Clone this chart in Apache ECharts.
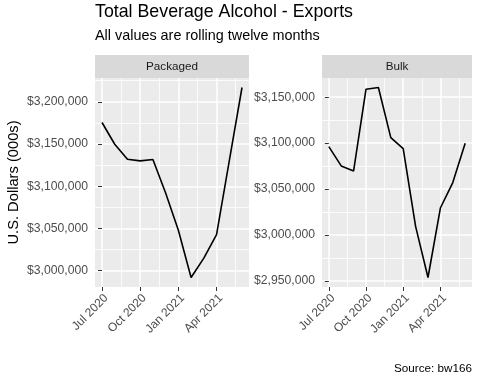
<!DOCTYPE html>
<html>
<head>
<meta charset="utf-8">
<script src="https://cdn.jsdelivr.net/npm/echarts@6/dist/echarts.min.js"></script>
<style>
html,body{margin:0;padding:0;background:#fff;}
#chart{width:480px;height:384px;}
</style>
</head>
<body>
<div id="chart"></div>
<script>
// ---- data ----
const months = ['Jul 2020','Aug 2020','Sep 2020','Oct 2020','Nov 2020','Dec 2020',
                'Jan 2021','Feb 2021','Mar 2021','Apr 2021','May 2021','Jun 2021'];
const xTickLabels = ['Jul 2020','Oct 2020','Jan 2021','Apr 2021'];
const packaged = [3175500, 3149700, 3132000, 3130000, 3131600, 3092000,
                  3048000, 2992000, 3015000, 3042700, 3130000, 3216900];
const bulk = [3096200, 3075150, 3069700, 3158700, 3160600, 3106000,
              3094000, 3009300, 2953600, 3029300, 3057000, 3099800];
const packagedYTicks = [3000000, 3050000, 3100000, 3150000, 3200000];
const bulkYTicks = [2950000, 3000000, 3050000, 3100000, 3150000];
const panelNames = ['Packaged', 'Bulk'];

// ---- helpers ----
const FONT = 'Liberation Sans, Arial, sans-serif';
const xIdx = months.map((m, i) => i);
const xTickVals = xTickLabels.map(l => months.indexOf(l));
const mids = arr => arr.map((v, i) => i === 0 ? null : (v + arr[i - 1]) / 2).filter(v => v !== null);
const xMinorVals = mids(xTickVals).concat([xTickVals[xTickVals.length - 1] + (xTickVals[1] - xTickVals[0]) / 2]);
const xPad = (xIdx.length - 1) * 0.05;
const xMin = -xPad, xMax = xIdx.length - 1 + xPad;
function yRange(arr) {
  const lo = Math.min(...arr), hi = Math.max(...arr), p = (hi - lo) * 0.05;
  return [lo - p, hi + p];
}
function yMinor(ticks, range) {
  const step = ticks[1] - ticks[0];
  const out = [];
  for (let v = ticks[0] - step / 2; v <= range[1]; v += step) if (v >= range[0]) out.push(v);
  return out;
}
const fmtDollar = v => '$' + Math.round(v).toLocaleString('en-US');

const grids = [
  {left: 95, top: 78, width: 154, height: 209},
  {left: 322, top: 78, width: 150, height: 209}
];
const seriesData = [packaged, bulk];
const yTicksAll = [packagedYTicks, bulkYTicks];

const xAxes = [], yAxes = [], series = [];
grids.forEach((g, gi) => {
  const yr = yRange(seriesData[gi]);
  // major x
  xAxes.push({
    type: 'value', gridIndex: gi, min: xMin, max: xMax,
    axisLine: {show: false},
    axisTick: {show: true, customValues: xTickVals, length: 4, lineStyle: {color: '#333333', width: 1}},
    axisLabel: {show: true, customValues: xTickVals, rotate: 45, margin: 5,
      align: 'right', verticalAlign: 'top',
      color: '#4D4D4D', fontSize: 12, fontFamily: FONT,
      formatter: v => months[Math.round(v)]},
    splitLine: {show: true, lineStyle: {color: '#FFFFFF', width: 1.5}}
  });
  // minor x
  xAxes.push({
    type: 'value', gridIndex: gi, min: xMin, max: xMax,
    axisLine: {show: false},
    axisTick: {show: false, customValues: xMinorVals},
    axisLabel: {show: false, customValues: xMinorVals},
    splitLine: {show: true, lineStyle: {color: '#FFFFFF', width: 0.8}}
  });
  // major y
  yAxes.push({
    type: 'value', gridIndex: gi, min: yr[0], max: yr[1],
    axisLine: {show: false},
    axisTick: {show: true, customValues: yTicksAll[gi], length: 4, lineStyle: {color: '#333333', width: 1}},
    axisLabel: {show: true, customValues: yTicksAll[gi], margin: 7,
      color: '#4D4D4D', fontSize: 12.2, fontFamily: FONT, formatter: fmtDollar},
    splitLine: {show: true, lineStyle: {color: '#FFFFFF', width: 1.5}}
  });
  // minor y
  const ym = yMinor(yTicksAll[gi], yr);
  yAxes.push({
    type: 'value', gridIndex: gi, min: yr[0], max: yr[1],
    axisLine: {show: false},
    axisTick: {show: false, customValues: ym},
    axisLabel: {show: false, customValues: ym},
    splitLine: {show: true, lineStyle: {color: '#FFFFFF', width: 0.8}}
  });
  series.push({
    type: 'line', xAxisIndex: gi * 2, yAxisIndex: gi * 2,
    data: seriesData[gi].map((v, i) => [xIdx[i], v]),
    symbol: 'none', lineStyle: {color: '#000000', width: 1.6},
    animation: false, z: 5
  });
});

const graphics = [];
grids.forEach((g, gi) => {
  graphics.push({type: 'rect', shape: {x: g.left, y: 55, width: g.width, height: 23},
    style: {fill: '#D9D9D9'}, z: -1});
  graphics.push({type: 'text', x: g.left + g.width / 2, y: 66.5,
    style: {text: panelNames[gi], fill: '#1A1A1A', font: '11.7px ' + FONT,
      textAlign: 'center', textVerticalAlign: 'middle'}});
});
graphics.push({type: 'text', x: 95, y: 3.5,
  style: {text: 'Total Beverage Alcohol - Exports', fill: '#000000', font: '17.8px ' + FONT,
    textAlign: 'left', textVerticalAlign: 'top'}});
graphics.push({type: 'text', x: 95, y: 29,
  style: {text: 'All values are rolling twelve months', fill: '#000000', font: '14.4px ' + FONT,
    textAlign: 'left', textVerticalAlign: 'top'}});
graphics.push({type: 'text', x: 472, y: 369,
  style: {text: 'Source: bw166', fill: '#000000', font: '11.7px ' + FONT,
    textAlign: 'right', textVerticalAlign: 'middle'}});
graphics.push({type: 'text', x: 14, y: 182.5, rotation: Math.PI / 2,
  style: {text: 'U.S. Dollars (000s)', fill: '#000000', font: '14.7px ' + FONT,
    textAlign: 'center', textVerticalAlign: 'middle'}});

const chart = echarts.init(document.getElementById('chart'), null, {renderer: 'canvas'});
chart.setOption({
  backgroundColor: '#FFFFFF',
  animation: false,
  grid: grids.map(g => Object.assign({backgroundColor: '#EBEBEB', show: true, borderWidth: 0}, g)),
  xAxis: xAxes,
  yAxis: yAxes,
  series: series,
  graphic: graphics
});
</script>
</body>
</html>
